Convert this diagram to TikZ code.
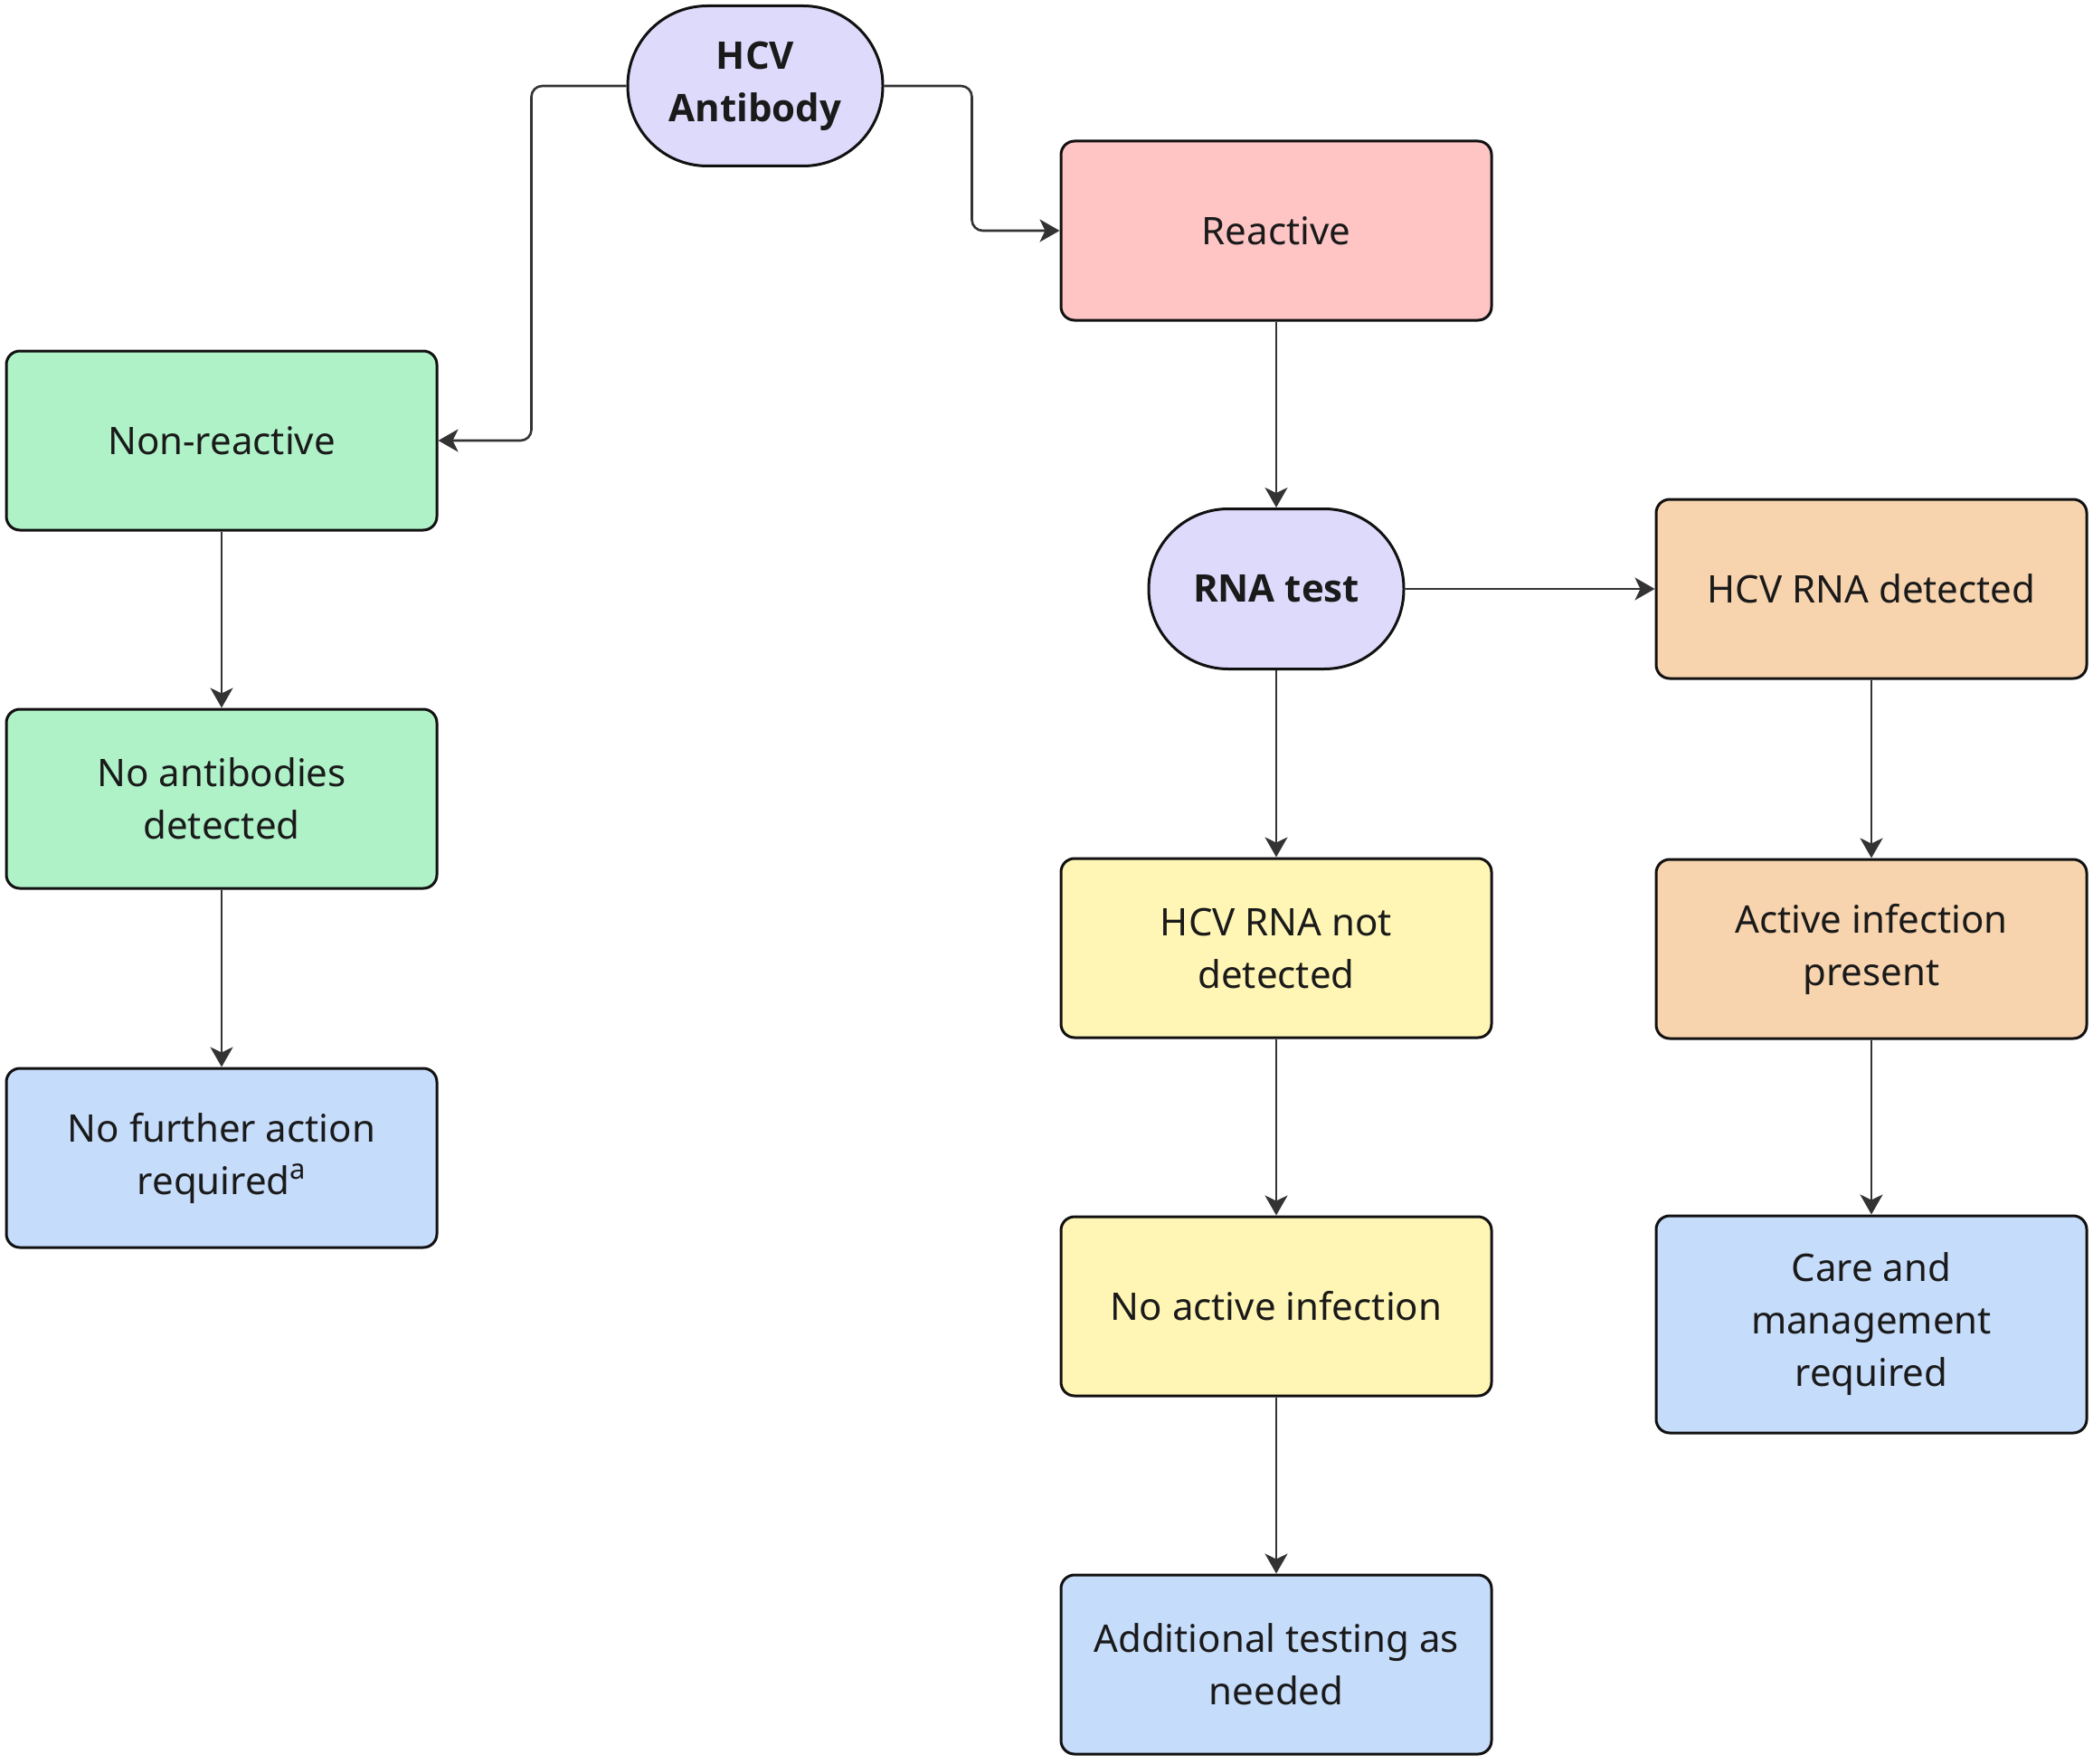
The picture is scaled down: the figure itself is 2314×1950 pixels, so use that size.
\documentclass[tikz,border=0pt]{standalone}
\usepackage{fontspec}
\setmainfont{Noto Sans}
\newfontfamily\pillfont{Open Sans}
\usetikzlibrary{arrows.meta}
\definecolor{lav}{HTML}{DEDAFC}
\definecolor{pinkc}{HTML}{FFC5C5}
\definecolor{greenc}{HTML}{AFF2C8}
\definecolor{bluec}{HTML}{C6DCFB}
\definecolor{yellowc}{HTML}{FFF6B5}
\definecolor{orangec}{HTML}{F7D4AE}
\definecolor{txt}{HTML}{1A1A1A}
\definecolor{lc}{HTML}{333333}
\definecolor{bc}{HTML}{111111}
\newcommand{\supa}{\raisebox{17pt}{\fontsize{31}{31}\selectfont a}}
\begin{document}
\begin{tikzpicture}[x=1pt,y=-1pt,
  box/.style={draw=bc, line width=3pt, rounded corners=15pt, minimum width=476pt, minimum height=198pt, align=center, text=txt, font=\fontsize{42}{58}\selectfont, inner sep=0pt},
  pill/.style={draw=bc, line width=3pt, rounded corners=88pt, fill=lav, minimum width=282pt, minimum height=177pt, align=center, text=txt, font=\pillfont\bfseries\fontsize{42}{58}\selectfont, inner sep=0pt},
  conn/.style={draw=lc, line width=2.6pt, -{Stealth[length=22pt,width=25pt,inset=6pt]}, rounded corners=12pt}]
\useasboundingbox[fill=white] (0,0) rectangle (2314,1950);

\node[pill] (ab) at (835,95) {HCV\\Antibody};
\node[box, fill=pinkc] (re) at (1411,255) {Reactive};
\node[box, fill=greenc] (nr) at (245,487) {Non-reactive};
\node[box, fill=greenc] (na) at (245,883) {No antibodies\\detected};
\node[box, fill=bluec] (nf) at (245,1280) {No further action\\required\supa};
\node[pill] (rna) at (1411,651) {RNA test};
\node[box, fill=orangec] (det) at (2069,651) {HCV RNA detected};
\node[box, fill=yellowc] (nd) at (1411,1048) {HCV RNA not\\detected};
\node[box, fill=orangec] (act) at (2069,1049) {Active infection\\present};
\node[box, fill=yellowc] (noa) at (1411,1444) {No active infection};
\node[box, fill=bluec, minimum height=240pt] (care) at (2069,1464) {Care and\\management\\required};
\node[box, fill=bluec] (add) at (1411,1840) {Additional testing as\\needed};

\draw[conn] (ab.west) -- ++(-105,0) |- (nr.east);
\draw[conn] (ab.east) -- ++(97,0) |- (re.west);
\draw[conn] (re) -- (rna);
\draw[conn] (rna) -- (det);
\draw[conn] (rna) -- (nd);
\draw[conn] (nd) -- (noa);
\draw[conn] (noa) -- (add);
\draw[conn] (det) -- (act);
\draw[conn] (act) -- (care);
\draw[conn] (nr) -- (na);
\draw[conn] (na) -- (nf);
\end{tikzpicture}
\end{document}
